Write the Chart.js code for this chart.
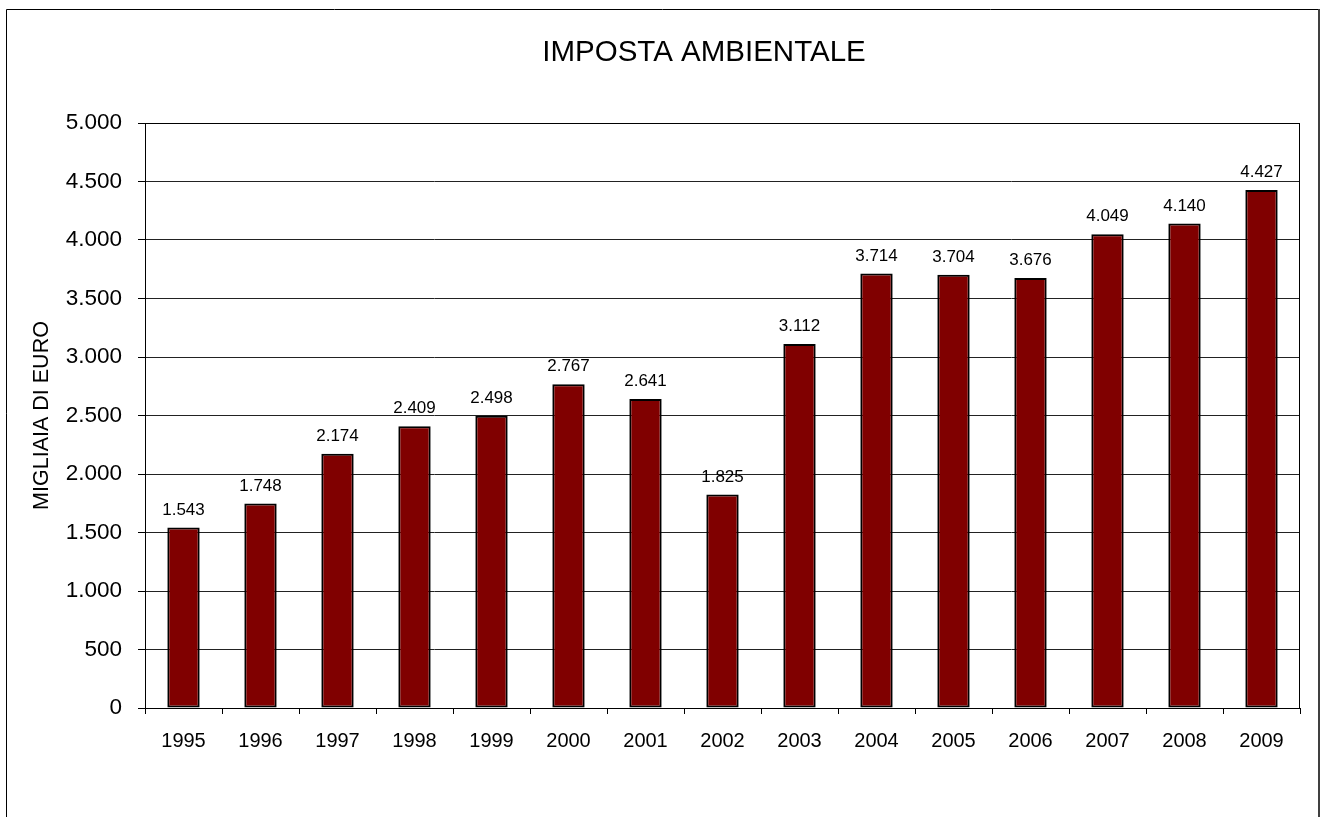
<!DOCTYPE html>
<html>
<head>
<meta charset="utf-8">
<script src="https://cdn.jsdelivr.net/npm/chart.js@4/dist/chart.umd.min.js"></script>
<style>
html,body{margin:0;padding:0;background:#fff;}
#wrap{position:relative;width:1327px;height:817px;}
</style>
</head>
<body>
<div id="wrap"><canvas id="c" width="1327" height="817"></canvas></div>
<script>
const titleText = 'IMPOSTA AMBIENTALE';
const yAxisTitle = 'MIGLIAIA DI EURO';
const years = ['1995','1996','1997','1998','1999','2000','2001','2002','2003','2004','2005','2006','2007','2008','2009'];
const values = [1543,1748,2174,2409,2498,2767,2641,1825,3112,3714,3704,3676,4049,4140,4427];
const yMin = 0, yMax = 5000, yStep = 500;

function fmt(v){
  return String(Math.round(v)).replace(/\B(?=(\d{3})+(?!\d))/g, '.');
}

const FONT = "Arial, 'Liberation Sans', sans-serif";

const framePlugin = {
  id: 'frame',
  beforeDraw(chart){
    const ctx = chart.ctx;
    ctx.save();
    ctx.fillStyle = '#fff';
    ctx.fillRect(0,0,chart.width,chart.height);
    ctx.strokeStyle = '#000';
    ctx.lineWidth = 1;
    ctx.beginPath();
    ctx.moveTo(6.5, 830);
    ctx.lineTo(6.5, 9.5);
    ctx.lineTo(1318.5, 9.5);
    ctx.stroke();
    ctx.strokeStyle = '#404040';
    ctx.lineWidth = 2;
    ctx.beginPath();
    ctx.moveTo(1319, 9);
    ctx.lineTo(1319, 830);
    ctx.stroke();
    // title
    ctx.fillStyle = '#000';
    ctx.font = '29.5px ' + FONT;
    ctx.textAlign = 'center';
    ctx.textBaseline = 'middle';
    ctx.fillText(titleText, 704, 53);
    ctx.restore();
  },
  afterDatasetsDraw(chart){
    const ctx = chart.ctx;
    const a = chart.chartArea;
    ctx.save();
    ctx.strokeStyle = '#000';
    ctx.lineWidth = 1;
    ctx.strokeRect(Math.round(a.left)+0.5, Math.round(a.top)+0.5, Math.round(a.right-a.left)-1, Math.round(a.bottom-a.top));
    // data labels
    const meta = chart.getDatasetMeta(0);
    ctx.fillStyle = '#000';
    ctx.font = '17px ' + FONT;
    ctx.textAlign = 'center';
    ctx.textBaseline = 'bottom';
    meta.data.forEach((bar, i) => {
      ctx.fillText(fmt(values[i]), bar.x, bar.y - 9);
    });
    ctx.restore();
  }
};

new Chart(document.getElementById('c'), {
  type: 'bar',
  data: {
    labels: years,
    datasets: [{
      data: values,
      backgroundColor: '#800000',
      borderColor: '#000',
      borderWidth: 2,
      borderSkipped: false,
      barPercentage: 0.42,
      categoryPercentage: 1
    }]
  },
  options: {
    responsive: false,
    animation: false,
    layout: { padding: { left: 0, top: 123, right: 27, bottom: 0 } },
    plugins: {
      legend: { display: false },
      tooltip: { enabled: false },
      title: { display: false }
    },
    scales: {
      x: {
        offset: true,
        grid: {
          offset: true,
          drawOnChartArea: false,
          drawTicks: true,
          tickLength: 6,
          color: '#000'
        },
        border: { color: '#000', width: 1 },
        ticks: {
          color: '#000',
          font: { family: FONT, size: 20 },
          padding: 15,
          maxRotation: 0,
          autoSkip: false
        },
        afterFit(scale){ scale.height = 109; }
      },
      y: {
        min: yMin,
        max: yMax,
        grid: {
          color: '#222',
          drawTicks: true,
          tickLength: 7,
          tickColor: '#000'
        },
        border: { color: '#000', width: 1 },
        ticks: {
          stepSize: yStep,
          color: '#000',
          font: { family: FONT, size: 22.5 },
          padding: 16,
          callback: (v) => fmt(v)
        },
        title: {
          display: true,
          text: yAxisTitle,
          color: '#000',
          font: { family: FONT, size: 21.5 },
          padding: { top: 29, bottom: 0 }
        },
        afterFit(scale){ scale.width = 145; }
      }
    }
  },
  plugins: [framePlugin]
});
</script>
</body>
</html>
